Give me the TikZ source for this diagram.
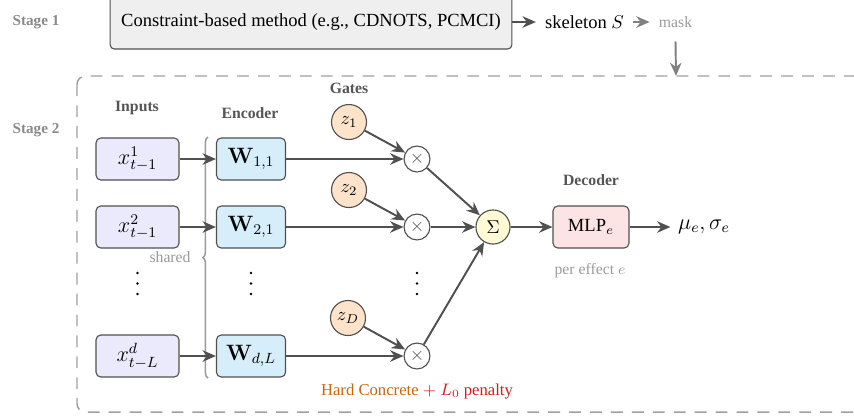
\documentclass[tikz,border=0pt]{standalone}
\usepackage[no-math]{fontspec}
\setmainfont{Liberation Serif}
\usetikzlibrary{arrows.meta,decorations.pathreplacing}

\definecolor{linec}{HTML}{505050}
\definecolor{headgray}{HTML}{555555}
\definecolor{stagegray}{HTML}{8A8A8A}
\definecolor{softgray}{HTML}{9A9A9A}
\definecolor{dashgray}{HTML}{A0A0A0}
\definecolor{stagefill}{HTML}{EFEFEF}
\definecolor{inputfill}{HTML}{EAEAFC}
\definecolor{encfill}{HTML}{D6EEFA}
\definecolor{gatefill}{HTML}{FDE3CA}
\definecolor{sumfill}{HTML}{FFF9D6}
\definecolor{mlpfill}{HTML}{FDE4E4}
\definecolor{hcorange}{HTML}{C8650F}
\definecolor{hcred}{HTML}{D41A1A}

\begin{document}
\begin{tikzpicture}[x=0.54pt,y=-0.54pt,
  header/.style={font=\fontsize{8.5}{10}\selectfont\bfseries, text=headgray},
  stagelbl/.style={font=\fontsize{8.2}{10}\selectfont\bfseries, text=stagegray},
  note/.style={font=\fontsize{8.5}{10}\selectfont, text=softgray},
  boxbase/.style={draw=linec, line width=0.6pt, rounded corners=2.6pt,
    minimum height=22.7pt, inner sep=0pt},
  inbox/.style={boxbase, fill=inputfill, minimum width=44.8pt, font=\large},
  encbox/.style={boxbase, fill=encfill, minimum width=37.3pt, font=\large},
  mlpbox/.style={boxbase, fill=mlpfill, minimum width=41pt},
  gate/.style={circle, draw=linec, line width=0.6pt, fill=gatefill,
    minimum size=18.9pt, inner sep=0pt},
  mult/.style={circle, draw=linec, line width=0.6pt, fill=white,
    minimum size=14pt, inner sep=0pt, text=linec},
  summer/.style={circle, draw=linec, line width=0.6pt, fill=sumfill,
    minimum size=18.4pt, inner sep=0pt},
  arr/.style={-{Stealth[length=7.2pt,width=6.2pt]}, line width=1.05pt, draw=linec},
  garr/.style={-{Stealth[length=7.2pt,width=6.2pt]}, line width=1.05pt, draw=gray},
  dotmark/.style={fill=black, draw=none, radius=0.75pt}
]
\useasboundingbox (0,0) rectangle (854,417);

% stage 2 frame
\draw[dashgray, line width=0.8pt, dash pattern=on 6.4pt off 4.9pt,
  rounded corners=4.5pt] (77,76) rectangle (862,412);
\coordinate (stagetwotop) at (676,76);

% stage labels
\node[stagelbl] at (36,22) {Stage 1};
\node[stagelbl] at (36,130) {Stage 2};

% stage 1
\node[draw=linec, line width=0.6pt, fill=stagefill, rounded corners=2.4pt,
  minimum width=217pt, minimum height=29.2pt, inner sep=0pt]
  (stageone) at (311,22) {Constraint-based method (e.g., CDNOTS, PCMCI)};
\node[inner xsep=4.8pt, inner ysep=2pt] (skel) at (584.5,22) {skeleton $S$};
\node[note, inner xsep=4.8pt] (mask) at (675.5,22) {mask};
\draw[arr] (stageone.east) -- (skel.west);
\draw[garr] (skel.east) -- (mask.west);
\draw[garr] ([yshift=-4pt]mask.south) -- (stagetwotop);

% column headers
\node[header] at (137,108) {Inputs};
\node[header] at (250,113) {Encoder};
\node[header] at (349,88) {Gates};
\node[header] at (591,180) {Decoder};

% inputs
\node[inbox] (x1) at (137.5,159) {$x^1_{t-1}$};
\node[inbox] (x2) at (137.5,227) {$x^2_{t-1}$};
\node[inbox] (xd) at (137.5,356) {$x^d_{t-L}$};

% encoder
\node[encbox] (w1) at (251,159) {$\mathbf{W}_{1,1}$};
\node[encbox] (w2) at (251,227) {$\mathbf{W}_{2,1}$};
\node[encbox] (wd) at (251,356) {$\mathbf{W}_{d,L}$};

% shared brace
\draw[decorate, decoration={brace, amplitude=2.8pt}, softgray, line width=0.8pt]
  (208,378) -- (208,137)
  node[midway, anchor=east, xshift=-9pt, inner sep=0pt, note] {shared};

% gates
\node[gate] (z1) at (349,122) {$z_1$};
\node[gate] (z2) at (349,190) {$z_2$};
\node[gate] (zd) at (348,318) {$z_D$};

% products
\node[mult] (m1) at (417,159) {$\times$};
\node[mult] (m2) at (417,227) {$\times$};
\node[mult] (md) at (417,356) {$\times$};

% vertical ellipses between rows
\foreach \cx in {137.5,251,417}
  \foreach \cy in {273,283.5,294}
    \fill[dotmark] (\cx,\cy) circle[radius=0.75pt];

% sum, decoder, output
\node[summer] (sum) at (493,227) {$\Sigma$};
\node[mlpbox] (mlp) at (591,227) {MLP$_e$};
\node[inner xsep=4pt, font=\large] (out) at (704,227) {$\mu_e,\sigma_e$};
\node[note] at (590,271) {per effect $e$};

% connectors
\foreach \i/\w in {x1/w1,x2/w2,xd/wd} \draw[arr] (\i) -- (\w);
\foreach \w/\m in {w1/m1,w2/m2,wd/md} \draw[arr] (\w) -- (\m);
\foreach \z/\m in {z1/m1,z2/m2,zd/md} \draw[arr] (\z) -- (\m);
\foreach \m in {m1,m2,md} \draw[arr] (\m) -- (sum);
\draw[arr] (sum) -- (mlp);
\draw[arr] (mlp) -- (out);

% penalty label
\node[font=\small] at (417,392)
  {\textcolor{hcorange}{Hard Concrete} \textcolor{hcred}{$+$ $L_0$ penalty}};
\end{tikzpicture}
\end{document}
